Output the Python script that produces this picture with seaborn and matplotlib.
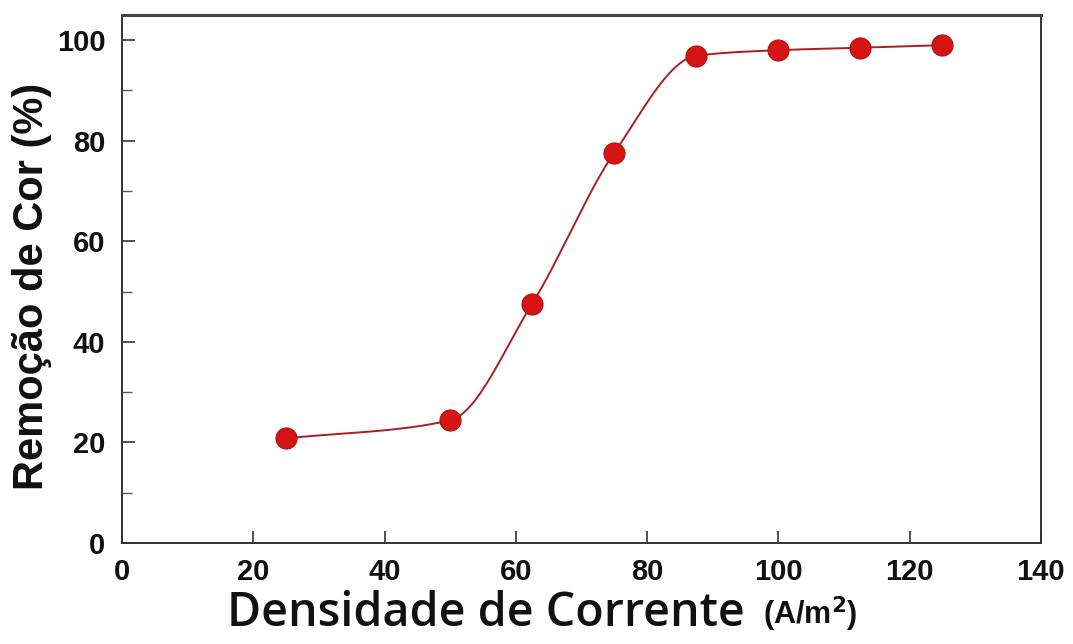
import numpy as np
import pandas as pd
import matplotlib
matplotlib.use("Agg")
import matplotlib.pyplot as plt
import seaborn as sns
from matplotlib.ticker import MultipleLocator

# Current density (A/m2) and colour removal (%)
densidade = [25, 50, 62.5, 75, 87.5, 100, 112.5, 125]
remocao = [20.8, 24.4, 47.6, 77.6, 96.9, 98.0, 98.5, 99.0]

x_ticks = [0, 20, 40, 60, 80, 100, 120, 140]
y_ticks = [0, 20, 40, 60, 80, 100]


def pchip(x, y, xs):
    """Monotone piecewise cubic Hermite curve through the measured points."""
    x = np.asarray(x, float)
    y = np.asarray(y, float)
    h = np.diff(x)
    d = np.diff(y) / h
    n = len(x)
    m = np.zeros(n)
    for k in range(1, n - 1):
        if d[k - 1] * d[k] > 0:
            w1 = 2 * h[k] + h[k - 1]
            w2 = h[k] + 2 * h[k - 1]
            m[k] = (w1 + w2) / (w1 / d[k - 1] + w2 / d[k])
    m[0] = d[0]
    m[-1] = d[-1]
    idx = np.clip(np.searchsorted(x, xs) - 1, 0, n - 2)
    t = (xs - x[idx]) / h[idx]
    h00 = 2 * t**3 - 3 * t**2 + 1
    h10 = t**3 - 2 * t**2 + t
    h01 = -2 * t**3 + 3 * t**2
    h11 = t**3 - t**2
    return (h00 * y[idx] + h10 * h[idx] * m[idx]
            + h01 * y[idx + 1] + h11 * h[idx] * m[idx + 1])


df = pd.DataFrame({"densidade": densidade, "remocao": remocao})
xs = np.linspace(min(densidade), max(densidade), 400)
curva = pd.DataFrame({"densidade": xs, "remocao": pchip(densidade, remocao, xs)})

sns.set_theme(style="white")
plt.rcParams["font.family"] = ["Liberation Sans", "DejaVu Sans"]

fig = plt.figure(figsize=(10.73, 6.44), dpi=100)
ax = fig.add_axes([0.1137, 0.1568, 0.8563, 0.8199])

sns.lineplot(data=curva, x="densidade", y="remocao", ax=ax,
             color="#a82020", linewidth=1.4, zorder=2)
sns.scatterplot(data=df, x="densidade", y="remocao", ax=ax,
                color="#d61414", edgecolor="#b01010", linewidth=0.8,
                s=230, zorder=3)

ax.set_xlim(0, 140)
ax.set_ylim(0, 105)
ax.set_xticks(x_ticks)
ax.set_yticks(y_ticks)
ax.yaxis.set_minor_locator(MultipleLocator(10))

ax.tick_params(axis="both", which="major", direction="in", length=9,
               width=1.2, color="#333333", labelsize=21,
               bottom=True, left=True, top=False, right=False)
ax.tick_params(axis="y", which="minor", direction="in", length=7,
               width=1.0, color="#555555", left=True)
ax.tick_params(axis="x", pad=11)
ax.tick_params(axis="y", pad=12)
for lab in ax.get_xticklabels() + ax.get_yticklabels():
    lab.set_fontweight("bold")
    lab.set_color("#111111")

for side, sp in ax.spines.items():
    sp.set_color("#333333")
    sp.set_linewidth(1.4)
ax.spines["top"].set_linewidth(2.2)
ax.spines["top"].set_color("#444444")

ax.set_xlabel("")
ax.set_ylabel("Remoção de Cor (%)", fontsize=30, fontweight="bold",
              color="#111111")
ax.yaxis.set_label_coords(-0.076, 0.487)

fig.text(0.453, 0.048, "Densidade de Corrente", fontsize=33.5,
         fontweight="semibold", family="Open Sans", color="#111111",
         ha="center", va="center")
fig.text(0.711, 0.046, "(A/m$^\\mathbf{2}$)", fontsize=22,
         fontweight="bold", color="#111111", ha="left", va="center")

fig.savefig("out.png", dpi=100)
